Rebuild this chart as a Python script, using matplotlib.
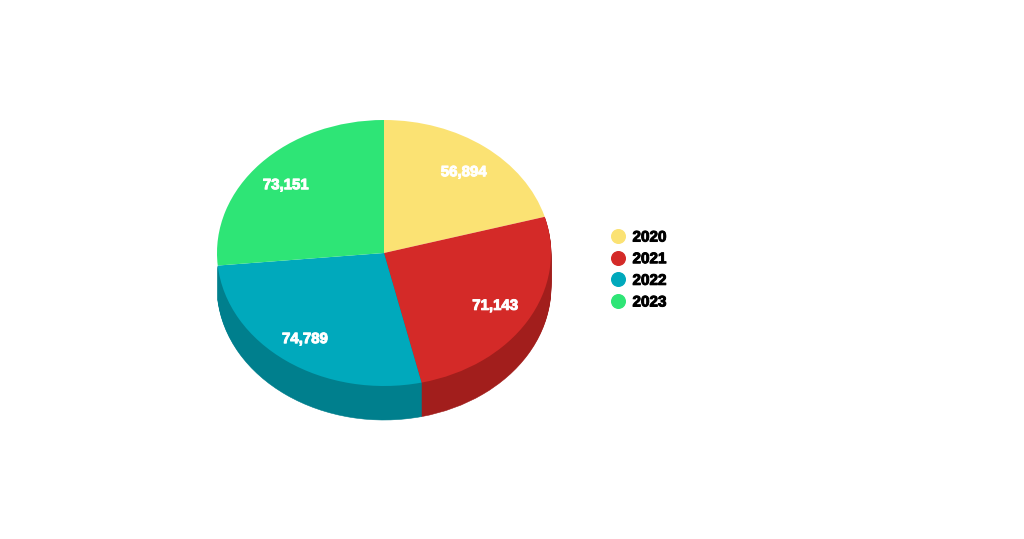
import matplotlib
matplotlib.use('Agg')
import matplotlib.pyplot as plt
import matplotlib.patheffects as pe
from matplotlib.lines import Line2D

# Dados
anos = ['2020', '2021', '2022', '2023']
valores = [56894, 71143, 74789, 73151]
cores = ['#FBE273', '#D42A28', '#00A9BC', '#2EE576']
cores_lado = ['#C9B55C', '#A21E1C', '#007F8D', '#23AC59']

plt.rcParams['font.family'] = ['Liberation Sans', 'DejaVu Sans']

largura, altura = 1024, 539
cx, cy = 384, 253   # centro da pizza em pixels
rx, ry = 167, 133   # raios da elipse em pixels
profundidade = 34

# Ajuste fino dos rótulos em pixels (x, y)
ajustes = [(1, -2), (-1, 0), (-3, -2), (-2, -2)]

# Traço fino para engrossar o negrito
traco_branco = [pe.withStroke(linewidth=0.7, foreground='white')]
traco_preto = [pe.withStroke(linewidth=0.7, foreground='black')]

fig = plt.figure(figsize=(largura / 100, altura / 100), dpi=100)
ax = fig.add_axes([0, 0, 1, 1])

# Lateral: várias pizzas empilhadas, de baixo para cima
for i in range(profundidade, 0, -1):
    fatias, _ = ax.pie(valores, colors=cores_lado, startangle=90, counterclock=False,
                       center=(0, -i / ry))
    for ano, f in zip(anos, fatias):
        f.set_clip_on(False)
        f.set_linewidth(0.4)
        f.set_edgecolor(f.get_facecolor())
        # no original só 2021 e 2022 têm lateral
        f.set_visible(ano in ('2021', '2022'))

# Topo com os rótulos
rotulo = iter(valores)
fatias, _, textos = ax.pie(valores, colors=cores, startangle=90, counterclock=False,
                           autopct=lambda p: f'{next(rotulo):,}', pctdistance=0.78,
                           textprops={'color': 'white', 'fontsize': 10.8, 'fontweight': 'bold'})
for t, (dx, dy) in zip(textos, ajustes):
    x, y = t.get_position()
    t.set_position((x + dx / rx, y + dy / ry))
    t.set_path_effects(traco_branco)

# Escala: 1 unidade = rx pixels em x e ry pixels em y
ax.set_aspect('auto')
ax.set_xlim(-cx / rx, (largura - cx) / rx)
ax.set_ylim((cy - altura) / ry, cy / ry)
ax.axis('off')

marcas = [Line2D([], [], linestyle='none', marker='o', markersize=9.8, color=c) for c in cores]
leg = fig.legend(marcas, anos, loc='center left', bbox_to_anchor=(595.5 / largura, 1 - 270 / altura),
                 frameon=False, prop={'size': 11, 'weight': 'bold'}, labelspacing=0.5,
                 handletextpad=0.12, handlelength=1.6, borderpad=0.2)
for t in leg.get_texts():
    t.set_path_effects(traco_preto)

fig.savefig('out.png', dpi=100, facecolor='white')
